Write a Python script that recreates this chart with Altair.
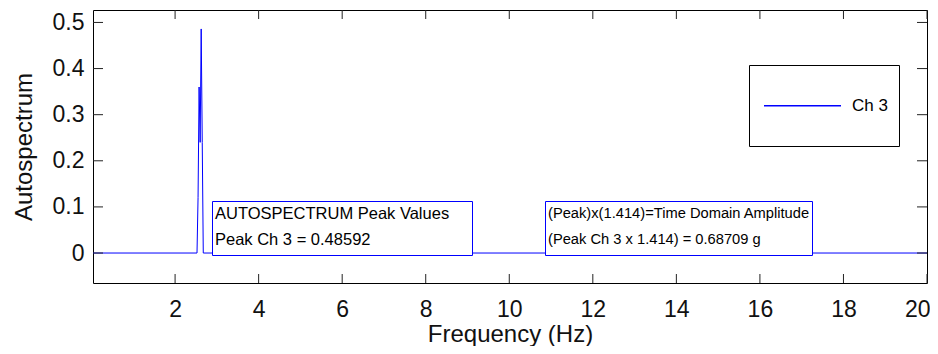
import altair as alt
import pandas as pd

# ---- data ----
freq = [0.035, 2.525, 2.55, 2.575, 2.6, 2.625, 2.65, 2.675, 20.0]
amp = [0.0, 0.0, 0.12, 0.36, 0.24, 0.48592, 0.24, 0.0, 0.0]
x_ticks = [2, 4, 6, 8, 10, 12, 14, 16, 18, 20]
y_ticks = [0, 0.1, 0.2, 0.3, 0.4, 0.5]
x_domain = [0.035, 20]
y_domain = [-0.065, 0.527]
box1_lines = ["AUTOSPECTRUM Peak Values", "Peak Ch 3 = 0.48592"]
box2_lines = ["(Peak)x(1.414)=Time Domain Amplitude", "(Peak Ch 3 x 1.414) = 0.68709 g"]
legend_label = "Ch 3"

W, H = 834, 273
BLUE = "#0000ff"
AX_FONT = "Liberation Sans"
BOX_FONT = "Liberation Sans"

spec_df = pd.DataFrame({"freq": freq, "amp": amp})
xt_df = pd.DataFrame({"t": x_ticks})
yt_df = pd.DataFrame({"t": y_ticks})
one = pd.DataFrame({"k": [0]})

xs = alt.Scale(domain=x_domain, nice=False, zero=False)
ys = alt.Scale(domain=y_domain, nice=False, zero=False)

x_axis = alt.Axis(values=x_ticks, title="Frequency (Hz)", grid=False, ticks=False,
                  tickSize=0, domain=False, labelFont=AX_FONT, labelFontSize=23,
                  labelPadding=15, labelColor="#111", labelFlush=True,
                  labelFlushOffset=3, labelOverlap=False,
                  titleFont=AX_FONT, titleFontSize=24, titleFontWeight="normal",
                  titleColor="#111", titleX=W / 2, titleY=51, titleBaseline="middle",
                  titleAlign="center")
y_axis = alt.Axis(values=y_ticks, format=".1~f", title="Autospectrum", grid=False,
                  ticks=False, tickSize=0, domain=False, labelFont=AX_FONT,
                  labelFontSize=23, labelPadding=9, labelColor="#111", labelOverlap=False,
                  titleFont=AX_FONT, titleFontSize=24, titleFontWeight="normal",
                  titleColor="#111", titleX=-69, titleY=H / 2, titleAngle=270,
                  titleBaseline="middle", titleAlign="center")

line = alt.Chart(spec_df).mark_line(color=BLUE, strokeWidth=1, clip=True).encode(
    x=alt.X("freq:Q", scale=xs, axis=x_axis),
    y=alt.Y("amp:Q", scale=ys, axis=y_axis),
)

tick_style = dict(color="#222", strokeWidth=1)
bottom_ticks = alt.Chart(xt_df).mark_rule(**tick_style).encode(
    x=alt.X("t:Q", scale=xs), y=alt.value(H), y2=alt.value(H - 9))
top_ticks = alt.Chart(xt_df).mark_rule(**tick_style).encode(
    x=alt.X("t:Q", scale=xs), y=alt.value(0), y2=alt.value(9))
left_ticks = alt.Chart(yt_df).mark_rule(**tick_style).encode(
    y=alt.Y("t:Q", scale=ys), x=alt.value(0), x2=alt.value(10))
right_ticks = alt.Chart(yt_df).mark_rule(**tick_style).encode(
    y=alt.Y("t:Q", scale=ys), x=alt.value(W), x2=alt.value(W - 10))


def box(x0, x1, y0, y1, stroke):
    return alt.Chart(one).mark_rect(fill="white", stroke=stroke, strokeWidth=1).encode(
        x=alt.value(x0), x2=alt.value(x1), y=alt.value(y0), y2=alt.value(y1))


def label(txt, x, y, font, size):
    return alt.Chart(one).mark_text(align="left", baseline="middle", font=font,
                                    fontSize=size, color="#000").encode(
        x=alt.value(x), y=alt.value(y), text=alt.value(txt))


box1 = box(119.5, 379.5, 191.5, 245.5, BLUE)
t11 = label(box1_lines[0], 122, 203.5, BOX_FONT, 16.5)
t12 = label(box1_lines[1], 122, 229.5, BOX_FONT, 16.5)
box2 = box(452.5, 719.5, 191.5, 245.5, BLUE)
t21 = label(box2_lines[0], 455, 203.5, BOX_FONT, 14.7)
t22 = label(box2_lines[1], 455, 229.5, BOX_FONT, 14.7)

leg_box = box(656.5, 806.5, 55.5, 136.5, "black")
leg_line = alt.Chart(one).mark_rule(color=BLUE, strokeWidth=1.5).encode(
    x=alt.value(671), x2=alt.value(748), y=alt.value(95.7))
leg_text = label(legend_label, 759, 96, AX_FONT, 17)

chart = alt.layer(
    line, bottom_ticks, top_ticks, left_ticks, right_ticks,
    box1, t11, t12, box2, t21, t22, leg_box, leg_line, leg_text,
).properties(
    width=W, height=H,
    autosize=alt.AutoSizeParams(type="none"),
    padding={"left": 85, "top": 2, "right": 3, "bottom": 63},
    background="white",
).configure_view(stroke="black", strokeWidth=1)

chart.save("out.html", embed_options={"renderer": "svg", "actions": False})
